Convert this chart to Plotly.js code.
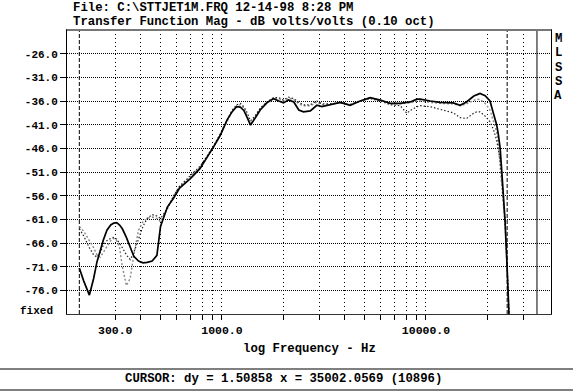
<!DOCTYPE html>
<html>
<head>
<meta charset="utf-8">
<script src="https://cdn.plot.ly/plotly-3.0.1.min.js"></script>
<style>
  html, body { margin: 0; padding: 0; background: #fff; }
  #chart { width: 573px; height: 392px; }
</style>
</head>
<body>
<div id="chart"></div>
<script>
// ---- data ----
const freqHz = [200, 210, 224, 235, 244, 253, 262, 273, 285, 295, 305, 315, 325, 340, 355, 370, 390, 410, 430, 455, 480, 500, 540, 580, 620, 700, 780, 850, 910, 980, 1060, 1120, 1180, 1230, 1280, 1330, 1380, 1450, 1540, 1660, 1790, 1900, 2000, 2120, 2250, 2380, 2510, 2710, 2920, 3090, 3400, 3800, 4250, 4760, 5330, 5970, 6680, 7480, 8060, 8370, 9030, 9370, 10500, 11700, 13600, 14700, 15800, 17100, 17700, 18400, 19500, 20600, 21400, 22200, 22600, 23100, 23500, 24400, 24900, 25400, 26000];

const solidDb = [-71.3, -74.0, -77.0, -73.5, -70.0, -67.5, -65.4, -63.3, -62.2, -61.8, -61.7, -62.2, -63.0, -64.8, -66.8, -68.8, -69.8, -70.2, -70.1, -69.8, -68.6, -62.5, -58.4, -56.5, -54.4, -52.4, -50.3, -47.8, -45.7, -43.3, -40.0, -38.3, -37.2, -37.3, -38.0, -39.5, -41.1, -39.7, -37.9, -36.4, -35.5, -36.0, -36.4, -35.8, -36.2, -37.9, -38.3, -38.1, -36.9, -37.2, -36.8, -36.3, -36.9, -36.0, -35.3, -35.8, -36.5, -36.5, -36.3, -36.2, -35.6, -35.6, -36.0, -36.3, -36.4, -36.9, -36.2, -35.0, -34.7, -34.4, -34.9, -36.0, -38.6, -41.0, -42.9, -46.0, -50.6, -61.2, -69.6, -80.8, -90.0];

const darkDotDb = [-63.0, -64.5, -67.0, -68.5, -69.0, -68.0, -66.5, -65.5, -65.0, -64.8, -65.2, -66.0, -67.0, -68.5, -69.5, -68.0, -65.0, -62.5, -60.8, -60.0, -60.3, -60.8, -58.8, -56.0, -54.0, -51.8, -49.8, -47.5, -45.5, -43.0, -40.0, -38.0, -36.8, -36.5, -37.2, -38.5, -40.2, -39.2, -37.5, -36.2, -35.3, -35.3, -35.8, -35.2, -35.5, -36.3, -36.8, -36.8, -36.0, -36.6, -36.6, -36.4, -36.8, -36.0, -35.5, -36.0, -36.8, -37.0, -38.6, -38.0, -37.2, -37.0, -37.2, -37.8, -38.5, -39.5, -39.7, -38.6, -38.3, -38.3, -39.2, -40.4, -42.0, -44.3, -46.0, -48.5, -52.0, -61.0, -69.0, -80.0, -90.0];

const grayDotDb = [-62.5, -63.5, -65.5, -67.0, -68.5, -69.0, -68.0, -66.8, -65.5, -65.0, -65.5, -67.0, -71.0, -75.0, -73.5, -68.5, -63.3, -61.5, -60.8, -60.5, -60.8, -61.5, -58.5, -56.0, -54.2, -52.0, -50.0, -47.6, -45.6, -43.1, -40.2, -38.3, -37.0, -36.8, -37.5, -39.0, -40.8, -39.5, -37.6, -36.3, -35.4, -35.5, -36.0, -35.4, -35.7, -36.6, -37.0, -37.0, -36.2, -36.8, -36.7, -36.3, -36.7, -36.0, -35.3, -35.9, -36.6, -36.6, -36.5, -36.4, -36.0, -36.0, -36.3, -36.5, -36.6, -37.0, -36.6, -35.8, -35.6, -35.7, -36.5, -37.9, -40.0, -42.5, -45.0, -50.0, -54.0, -62.0, -70.0, -80.0, -90.0];

const xTickVals = [300, 400, 500, 600, 700, 800, 900, 1000, 2000, 3000, 4000, 5000, 6000, 7000, 8000, 9000, 10000, 20000, 30000];
const xTickText = ['300.0', '', '', '', '', '', '', '1000.0', '', '', '', '', '', '', '', '', '10000.0', '', ''];
const yTickVals = [-26, -31, -36, -41, -46, -51, -56, -61, -66, -71, -76];
const yTickText = ['-26.0', '-31.0', '-36.0', '-41.0', '-46.0', '-51.0', '-56.0', '-61.0', '-66.0', '-71.0', '-76.0'];
const cursorMarkersHz = [200, 25000];
const cursorHz = 35000;
const yRange = [-81, -21];
const xRangeHz = [174, 41000];

const titleLine1 = 'File: C:\\STTJET1M.FRQ 12-14-98 8:28 PM';
const titleLine2 = 'Transfer Function Mag - dB volts/volts (0.10 oct)';
const xTitle = 'log Frequency - Hz';
const statusText = 'CURSOR: dy = 1.50858 x = 35002.0569 (10896)';
const sideLetters = ['M', 'L', 'S', 'S', 'A'];

// ---- layout helpers (pixel -> paper) ----
const W = 573, H = 392;
const M = {l: 67, r: 22, t: 30, b: 78};
const PW = W - M.l - M.r, PH = H - M.t - M.b;
const px = x => (x - M.l) / PW;
const py = y => (H - M.b - y) / PH;

const FONT = 'Liberation Mono, DejaVu Sans Mono, monospace';

const traces = [
  // cursor marker lines
  ...cursorMarkersHz.map(f => ({
    x: [f, f], y: yRange, mode: 'lines', hoverinfo: 'skip', showlegend: false,
    line: {color: '#000', width: 1, dash: '4px,2px'}
  })),
  {
    x: [cursorHz, cursorHz], y: yRange, mode: 'lines', hoverinfo: 'skip', showlegend: false,
    line: {color: '#000', width: 1}
  },
  {
    x: freqHz, y: grayDotDb, mode: 'lines', showlegend: false,
    line: {color: '#8a8a8a', width: 1.4, dash: '2px,2px'}
  },
  {
    x: freqHz, y: darkDotDb, mode: 'lines', showlegend: false,
    line: {color: '#222', width: 1.2, dash: '1.5px,2px'}
  },
  {
    x: freqHz, y: solidDb, mode: 'lines', showlegend: false,
    line: {color: '#000', width: 1.7}
  }
];

const annotations = [
  {text: titleLine1, xref: 'paper', yref: 'paper', x: px(71), y: py(8), xanchor: 'left', yanchor: 'middle', showarrow: false,
   font: {family: FONT, size: 12.3, color: '#000', weight: 'bold'}},
  {text: titleLine2, xref: 'paper', yref: 'paper', x: px(71), y: py(22), xanchor: 'left', yanchor: 'middle', showarrow: false,
   font: {family: FONT, size: 12.3, color: '#000', weight: 'bold'}},
  {text: 'fixed', xref: 'paper', yref: 'paper', x: px(55), y: py(311), xanchor: 'right', yanchor: 'middle', showarrow: false,
   font: {family: FONT, size: 11, color: '#000', weight: 'bold'}},
  {text: xTitle, xref: 'paper', yref: 'paper', x: px(309), y: py(349), xanchor: 'center', yanchor: 'middle', showarrow: false,
   font: {family: FONT, size: 12.3, color: '#000', weight: 'bold'}},
  {text: statusText, xref: 'paper', yref: 'paper', x: px(283), y: py(379), xanchor: 'center', yanchor: 'middle', showarrow: false,
   font: {family: FONT, size: 12.3, color: '#000', weight: 'bold'}},
  ...sideLetters.map((s, i) => ({
    text: s, xref: 'paper', yref: 'paper', x: px(558), y: py(38.5 + i * 14.5), xanchor: 'center', yanchor: 'middle', showarrow: false,
    font: {family: FONT, size: 12.3, color: '#000', weight: 'bold'}
  }))
];

const shapes = [
  // top border (gray, heavier)
  {type: 'line', xref: 'paper', yref: 'paper', x0: 0, x1: 1, y0: 1, y1: 1, line: {color: '#777', width: 2}},
  // status bar lines
  {type: 'line', xref: 'paper', yref: 'paper', x0: px(0), x1: px(W), y0: py(369), y1: py(369), line: {color: '#555', width: 1.5}},
  {type: 'line', xref: 'paper', yref: 'paper', x0: px(0), x1: px(W), y0: py(390), y1: py(390), line: {color: '#555', width: 1.5}}
];

const layout = {
  width: W, height: H,
  margin: M,
  paper_bgcolor: '#fff', plot_bgcolor: '#fff',
  showlegend: false,
  xaxis: {
    type: 'log',
    range: [Math.log10(xRangeHz[0]), Math.log10(xRangeHz[1])],
    tickmode: 'array', tickvals: xTickVals, ticktext: xTickText,
    ticks: 'outside', ticklen: 5, tickwidth: 1, tickcolor: '#000',
    showgrid: true, gridcolor: '#000', gridwidth: 1, griddash: '1px,3px',
    showline: true, mirror: true, linecolor: '#333', linewidth: 1,
    zeroline: false,
    tickfont: {family: FONT, size: 11.5, color: '#000', weight: 'bold'},
    fixedrange: true
  },
  yaxis: {
    range: yRange,
    tickmode: 'array', tickvals: yTickVals, ticktext: yTickText,
    ticks: 'outside', ticklen: 6, tickwidth: 1, tickcolor: '#000',
    showgrid: true, gridcolor: '#000', gridwidth: 1, griddash: '1px,1px',
    showline: true, mirror: true, linecolor: '#000', linewidth: 1,
    zeroline: false,
    tickfont: {family: FONT, size: 11, color: '#000', weight: 'bold'},
    fixedrange: true
  },
  annotations: annotations,
  shapes: shapes
};

Plotly.newPlot('chart', traces, layout, {displayModeBar: false, staticPlot: true});
</script>
</body>
</html>
